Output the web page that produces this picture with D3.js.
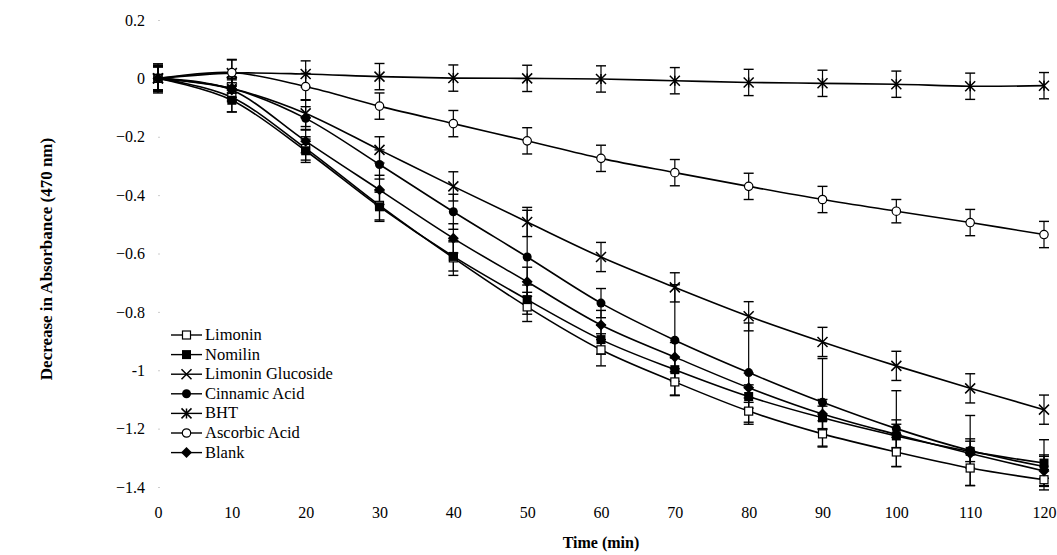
<!DOCTYPE html>
<html>
<head>
<meta charset="utf-8">
<script src="https://cdn.jsdelivr.net/npm/d3@7"></script>
<style>
  body { margin: 0; background: #fff; }
  svg text { font-family: "Liberation Serif", "DejaVu Serif", serif; }
</style>
</head>
<body>
<svg></svg>
<script>
// time points (min)
const times = [0, 10, 20, 30, 40, 50, 60, 70, 80, 90, 100, 110, 120];
const yTicks = [0.2, 0, -0.2, -0.4, -0.6, -0.8, -1, -1.2, -1.4];
const xTicks = [0, 10, 20, 30, 40, 50, 60, 70, 80, 90, 100, 110, 120];

const seriesNames = ["Limonin", "Nomilin", "Limonin Glucoside", "Cinnamic Acid", "BHT", "Ascorbic Acid", "Blank"];
const seriesMarkers = ["openSquare", "square", "cross", "circle", "star", "openCircle", "diamond"];

const limonin = [0, -0.065, -0.24, -0.435, -0.615, -0.783, -0.93, -1.04, -1.14, -1.218, -1.28, -1.335, -1.375];
const nomilin = [0, -0.075, -0.248, -0.44, -0.61, -0.758, -0.895, -0.998, -1.09, -1.163, -1.225, -1.278, -1.318];
const limoninGlucoside = [0, -0.035, -0.12, -0.245, -0.37, -0.492, -0.612, -0.716, -0.815, -0.903, -0.985, -1.062, -1.135];
const cinnamicAcid = [0, -0.035, -0.137, -0.295, -0.457, -0.612, -0.77, -0.897, -1.008, -1.11, -1.2, -1.275, -1.33];
const bht = [0, 0.018, 0.015, 0.006, 0.001, 0, -0.002, -0.008, -0.014, -0.017, -0.02, -0.027, -0.025];
const ascorbicAcid = [0, 0.02, -0.028, -0.095, -0.155, -0.214, -0.274, -0.323, -0.37, -0.415, -0.455, -0.494, -0.535];
const blank = [0, -0.04, -0.215, -0.382, -0.548, -0.697, -0.845, -0.955, -1.06, -1.15, -1.22, -1.285, -1.345];

// error bar half-widths
const limoninErr = [0.05, 0.05, 0.04, 0.05, 0.06, 0.05, 0.055, 0.045, 0.045, 0.045, 0.05, 0.06, 0.035];
const nomilinErr = [0.04, 0.04, 0.04, 0.05, 0.05, 0.05, 0.05, 0.04, 0.04, 0.04, 0.04, 0.035, 0.08];
const limoninGlucosideErr = [0.04, 0.04, 0.045, 0.045, 0.05, 0.05, 0.05, 0.05, 0.05, 0.05, 0.05, 0.05, 0.05];
const cinnamicAcidErr = [0.04, 0.03, 0.04, 0.05, 0.06, 0.16, 0.05, 0.19, 0.17, 0.15, 0.13, 0.12, 0.04];
const bhtErr = [0.045, 0.045, 0.045, 0.045, 0.045, 0.045, 0.045, 0.045, 0.045, 0.045, 0.045, 0.045, 0.045];
const ascorbicAcidErr = [0.045, 0.045, 0.045, 0.045, 0.045, 0.045, 0.045, 0.045, 0.045, 0.045, 0.04, 0.045, 0.045];
const blankErr = [0.04, 0.04, 0.04, 0.05, 0.05, 0.05, 0.05, 0.05, 0.05, 0.05, 0.05, 0.05, 0.05];

const seriesValues = [limonin, nomilin, limoninGlucoside, cinnamicAcid, bht, ascorbicAcid, blank];
const seriesErrors = [limoninErr, nomilinErr, limoninGlucosideErr, cinnamicAcidErr, bhtErr, ascorbicAcidErr, blankErr];

const series = seriesNames.map((name, i) => ({
  name: name,
  marker: seriesMarkers[i],
  points: times.map((t, j) => ({ t: t, v: seriesValues[i][j], e: seriesErrors[i][j] }))
}));

const width = 1057;
const height = 555;
const serif = "Liberation Serif, DejaVu Serif, serif";

const xScale = d3.scaleLinear().domain([0, 120]).range([158, 1044]);
const yScale = d3.scaleLinear().domain([-1.4, 0.2]).range([487, 20]);

const svg = d3.select("svg")
  .attr("width", width)
  .attr("height", height);

// axes: labels only, faint tick marks
const yAxis = d3.axisLeft(yScale).tickValues(yTicks).tickSize(2).tickPadding(13)
  .tickFormat(d => d === 0 ? "0" : (d === -1 ? "-1" : d3.format(".1f")(d)));
const xAxis = d3.axisBottom(xScale).tickValues(xTicks).tickSize(0).tickPadding(20);

const gy = svg.append("g")
  .attr("transform", "translate(160,0)")
  .call(yAxis)
  .attr("font-family", serif);
gy.select(".domain").remove();
gy.selectAll(".tick line").attr("stroke", "#ccc");
gy.selectAll("text").attr("font-size", 16).attr("fill", "#000");

const gx = svg.append("g")
  .attr("transform", "translate(0,487)")
  .call(xAxis)
  .attr("font-family", serif);
gx.select(".domain").remove();
gx.selectAll("text").attr("font-size", 16).attr("fill", "#000");

svg.append("text")
  .attr("x", xScale(60))
  .attr("y", 548)
  .attr("text-anchor", "middle")
  .attr("font-family", serif)
  .attr("font-size", 16)
  .attr("font-weight", "bold")
  .text("Time (min)");

svg.append("text")
  .attr("transform", "rotate(-90)")
  .attr("x", -259)
  .attr("y", 52)
  .attr("text-anchor", "middle")
  .attr("font-family", serif)
  .attr("font-size", 17)
  .attr("font-weight", "bold")
  .text("Decrease in Absorbance (470 nm)");

// error bars
const errG = svg.append("g");
series.forEach(s => {
  s.points.forEach(p => {
    const x = xScale(p.t);
    const y1 = yScale(p.v + p.e);
    const y2 = yScale(p.v - p.e);
    errG.append("line").attr("x1", x).attr("x2", x).attr("y1", y1).attr("y2", y2)
      .attr("stroke", "#000").attr("stroke-width", 1.2);
    [y1, y2].forEach(yy => {
      errG.append("line").attr("x1", x - 5).attr("x2", x + 5).attr("y1", yy).attr("y2", yy)
        .attr("stroke", "#000").attr("stroke-width", 1.4);
    });
  });
});

// lines
const line = d3.line()
  .x(d => xScale(d.t))
  .y(d => yScale(d.v))
  .curve(d3.curveCardinal.tension(0));

svg.append("g")
  .selectAll("path")
  .data(series)
  .enter()
  .append("path")
    .attr("d", d => line(d.points))
    .attr("fill", "none")
    .attr("stroke", "#000")
    .attr("stroke-width", 1.6);

function drawMarker(g, type, x, y) {
  if (type === "openSquare") {
    g.append("rect").attr("x", x - 4).attr("y", y - 4).attr("width", 8).attr("height", 8)
      .attr("fill", "#fff").attr("stroke", "#000").attr("stroke-width", 1.2);
  } else if (type === "square") {
    g.append("rect").attr("x", x - 4.5).attr("y", y - 4.5).attr("width", 9).attr("height", 9)
      .attr("fill", "#000");
  } else if (type === "circle") {
    g.append("circle").attr("cx", x).attr("cy", y).attr("r", 4.5).attr("fill", "#000");
  } else if (type === "openCircle") {
    g.append("circle").attr("cx", x).attr("cy", y).attr("r", 4.2)
      .attr("fill", "#fff").attr("stroke", "#000").attr("stroke-width", 1.2);
  } else if (type === "diamond") {
    g.append("path").attr("d", `M${x},${y - 5.5}L${x + 5.5},${y}L${x},${y + 5.5}L${x - 5.5},${y}Z`)
      .attr("fill", "#000");
  } else if (type === "cross") {
    g.append("path").attr("d", `M${x - 5},${y - 5}L${x + 5},${y + 5}M${x - 5},${y + 5}L${x + 5},${y - 5}`)
      .attr("stroke", "#000").attr("stroke-width", 1.5);
  } else if (type === "star") {
    g.append("path").attr("d", `M${x - 5},${y - 5}L${x + 5},${y + 5}M${x - 5},${y + 5}L${x + 5},${y - 5}M${x},${y - 5}L${x},${y + 5}`)
      .attr("stroke", "#000").attr("stroke-width", 1.5);
  }
}

// markers
const markG = svg.append("g");
series.forEach(s => {
  s.points.forEach(p => drawMarker(markG, s.marker, xScale(p.t), yScale(p.v)));
});

// legend
const legend = svg.append("g").attr("transform", "translate(171,335)");
series.forEach((s, i) => {
  const yy = i * 19.6;
  legend.append("line").attr("x1", 0).attr("x2", 31).attr("y1", yy).attr("y2", yy)
    .attr("stroke", "#000").attr("stroke-width", 1.4);
  drawMarker(legend, s.marker, 15.5, yy);
  legend.append("text")
    .attr("x", 34)
    .attr("y", yy + 5)
    .attr("font-family", serif)
    .attr("font-size", 16.5)
    .text(s.name);
});
</script>
</body>
</html>
